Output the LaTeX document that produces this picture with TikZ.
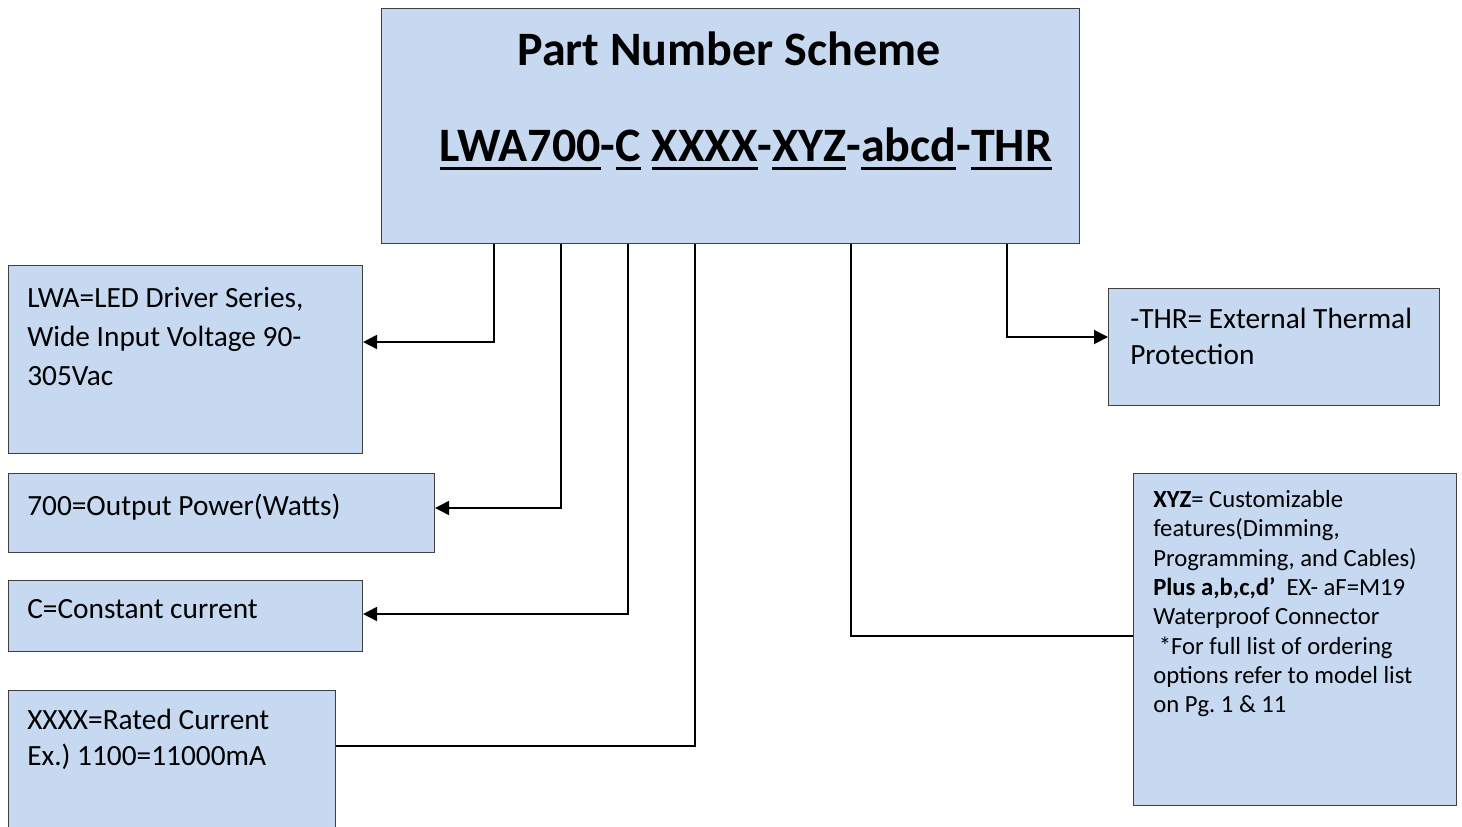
\documentclass[tikz,border=0pt]{standalone}
\usepackage{fontspec}
\setmainfont{Carlito}
\usetikzlibrary{arrows.meta,positioning}
\definecolor{boxblue}{HTML}{C6D9F1}
\definecolor{boxline}{HTML}{404040}
\newcommand{\pnul}[1]{\setbox0\hbox{#1}\rlap{\rule[-6pt]{\wd0}{2.2pt}}\box0\relax}
\frenchspacing
\tikzset{
block/.style = {draw=boxline, line width=0.8pt, fill=boxblue, anchor=north west, inner sep=0pt},
txt/.style = {anchor=north west, inner sep=0pt, align=left, font=\fontsize{22}{27}\selectfont},
smalltxt/.style = {txt, font=\fontsize{18.5}{22}\selectfont},
bigtxt/.style = {anchor=base, inner sep=0pt, font=\fontsize{36}{43}\selectfont\bfseries},
link/.style = {line width=1.4pt},
arrow/.style = {link, -{Triangle[length=10.5pt,width=10.5pt]}}
}

\begin{document}
\begin{tikzpicture}[x=0.75pt, y=-0.75pt]
    \clip (0,0) rectangle (1462,827);

    % main box
    \node [block, minimum width=523.5pt, minimum height=176.25pt] (scheme) at (381,8) {};
    \node [bigtxt] (title) at (729,66) {Part Number Scheme};
    \node [bigtxt] (pn) at (746,162)
    {\pnul{LWA700}-\pnul{C} \pnul{XXXX}-\pnul{XYZ}-\pnul{abcd}-\pnul{THR}};

    % left boxes
    \node [block, minimum width=265.5pt, minimum height=141pt] (lwa) at (8,265) {};
    \node [txt, font=\fontsize{22}{29.25}\selectfont,
           below right=16.5pt and 14.25pt of lwa.north west] (lwatxt)
    {LWA=LED Driver Series,\\Wide Input Voltage 90-\\305Vac};

    \node [block, minimum width=319.5pt, minimum height=59.25pt] (pwr) at (8,473) {};
    \node [txt, below right=15.75pt and 14.25pt of pwr.north west] (pwrtxt)
    {700=Output Power(Watts)};

    \node [block, minimum width=265.5pt, minimum height=53.25pt] (cc) at (8,580) {};
    \node [txt, below right=14.25pt and 14.25pt of cc.north west] (cctxt)
    {C=Constant current};

    \node [block, minimum width=245.25pt, minimum height=112.5pt] (cur) at (8,690) {};
    \node [txt, below right=14.25pt and 14.25pt of cur.north west] (curtxt)
    {XXXX=Rated Current\\Ex.) 1100=11000mA};

    % right boxes
    \node [block, minimum width=248.25pt, minimum height=87.75pt] (thr) at (1108,288) {};
    \node [txt, below right=15pt and 16.5pt of thr.north west] (thrtxt)
    {-THR= External Thermal\\Protection};

    \node [block, minimum width=242.25pt, minimum height=249pt] (xyz) at (1133,473) {};
    \node [smalltxt, below right=12.75pt and 15pt of xyz.north west] (xyztxt)
    {\textbf{XYZ}= Customizable\\features(Dimming,\\Programming, and Cables)\\
     \textbf{Plus a,b,c,d’}\ \ EX- aF=M19\\Waterproof Connector\\
     \ *For full list of ordering\\options refer to model list\\on Pg. 1 \& 11};

    % connectors
    \coordinate (k1) at (494,342);
    \coordinate (k2) at (561,508);
    \coordinate (k3) at (628,614);
    \coordinate (k4) at (695,746);
    \coordinate (k5) at (851,636);
    \coordinate (k6) at (1007,337);

    \draw [arrow] (scheme.south -| k1) -- (k1) -- (lwa.east |- k1);
    \draw [arrow] (scheme.south -| k2) -- (k2) -- (pwr.east |- k2);
    \draw [arrow] (scheme.south -| k3) -- (k3) -- (cc.east |- k3);
    \draw [link] (scheme.south -| k4) -- (k4) -- (cur.east |- k4);
    \draw [link] (scheme.south -| k5) -- (k5) -- (xyz.west |- k5);
    \draw [arrow] (scheme.south -| k6) -- (k6) -- (thr.west |- k6);

\end{tikzpicture}
\end{document}
